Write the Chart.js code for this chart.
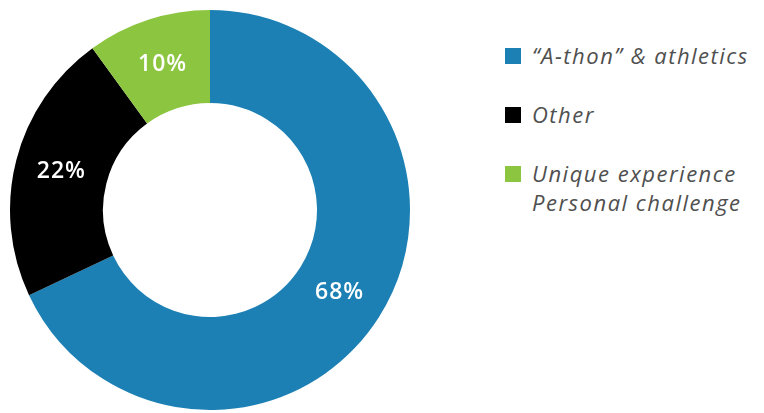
<!DOCTYPE html>
<html>
<head>
<meta charset="utf-8">
<script src="https://cdn.jsdelivr.net/npm/chart.js@4"></script>
<style>
  html, body { margin: 0; padding: 0; background: #ffffff; overflow: hidden; }
  .wrapper { position: relative; width: 764px; height: 413px; }
  .chart-box { position: absolute; left: 0; top: 0; width: 420px; height: 413px; }
  .legend { position: absolute; left: 505px; top: 41px; margin: 0; padding: 0; list-style: none;
    font-family: "Open Sans", sans-serif; font-style: italic; font-size: 22px; letter-spacing: 1.5px;
    color: #505050; white-space: nowrap; }
  .legend li { position: relative; padding-left: 27px; line-height: 29px; margin-bottom: 30px; }
  .legend .swatch { position: absolute; left: 0; top: 7px; width: 16px; height: 16px; }
</style>
</head>
<body>
<div class="wrapper">
  <div class="chart-box"><canvas id="donutChart"></canvas></div>
  <ul class="legend" id="legend"></ul>
</div>
<script>
const categories = ["\u201cA-thon\u201d & athletics", "Other", "Unique experience\nPersonal challenge"];
const shares = [68, 22, 10];
const sliceColors = ["#1c80b4", "#000000", "#8cc540"];

// Legend
let legendEl = document.getElementById("legend");
categories.forEach(function (name, i) {
  let li = document.createElement("li");
  let sw = document.createElement("span");
  sw.className = "swatch";
  sw.style.background = sliceColors[i];
  li.appendChild(sw);
  name.split("\n").forEach(function (line, j) {
    if (j > 0) li.appendChild(document.createElement("br"));
    li.appendChild(document.createTextNode(line));
  });
  legendEl.appendChild(li);
});

// Percent labels inside the ring
const sliceLabels = {
  id: "sliceLabels",
  afterDatasetsDraw: function (chart) {
    const ctx = chart.ctx;
    const meta = chart.getDatasetMeta(0);
    ctx.save();
    ctx.fillStyle = "#ffffff";
    ctx.font = "600 23px 'Open Sans', sans-serif";
    ctx.letterSpacing = "1px";
    ctx.textAlign = "center";
    ctx.textBaseline = "middle";
    meta.data.forEach(function (arc, i) {
      const pos = arc.tooltipPosition();
      ctx.fillText(shares[i] + "%", pos.x, pos.y);
    });
    ctx.restore();
  },
};

let ctx = document.getElementById("donutChart").getContext("2d");
let donutChart = new Chart(ctx, {
  type: "doughnut",
  data: {
    labels: categories,
    datasets: [
      {
        data: shares,
        backgroundColor: sliceColors,
        borderWidth: 0,
      },
    ],
  },
  options: {
    responsive: true,
    maintainAspectRatio: false,
    cutout: "53.5%",
    animation: false,
    layout: {
      padding: { top: 10, bottom: 3, left: 10, right: 10 },
    },
    plugins: {
      legend: { display: false },
      tooltip: { enabled: false },
    },
  },
  plugins: [sliceLabels],
});
</script>
</body>
</html>
